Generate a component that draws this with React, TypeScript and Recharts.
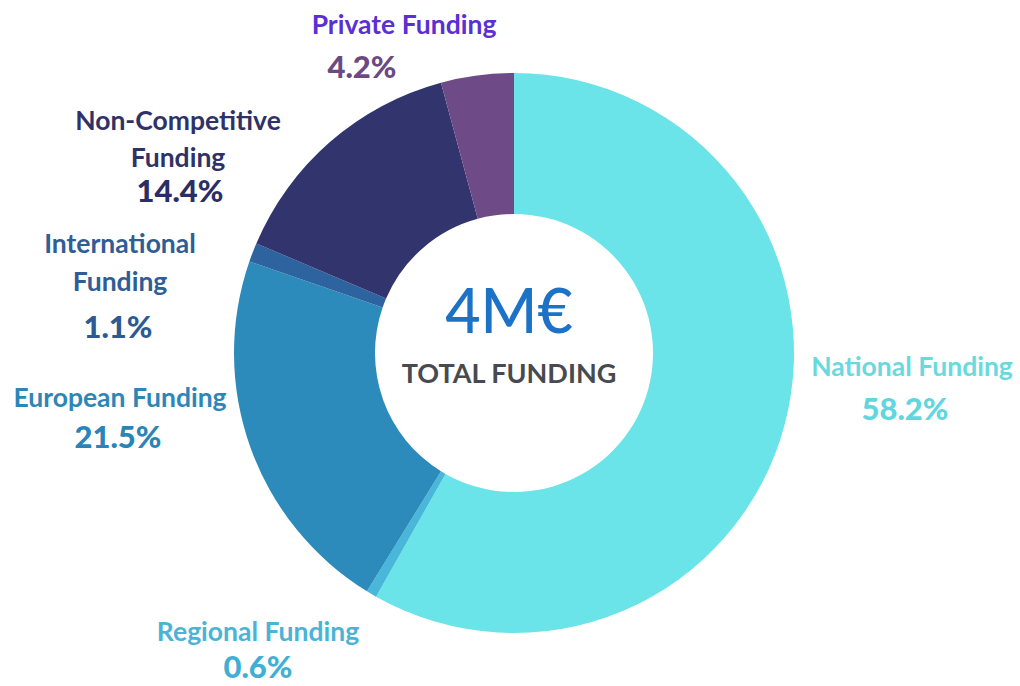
import React from "react";
import { PieChart, Pie, Cell, Label } from "recharts";

const categories = [
  "National Funding",
  "Regional Funding",
  "European Funding",
  "International Funding",
  "Non-Competitive Funding",
  "Private Funding",
];
const shares = [58.2, 0.6, 21.5, 1.1, 14.4, 4.2];
const percentLabels = ["58.2%", "0.6%", "21.5%", "1.1%", "14.4%", "4.2%"];
const nameLines = [
  ["National Funding"],
  ["Regional Funding"],
  ["European Funding"],
  ["International", "Funding"],
  ["Non-Competitive", "Funding"],
  ["Private Funding"],
];
const totalValue = "4M€";
const totalCaption = "TOTAL FUNDING";

const sliceColors = ["#6ae4e8", "#48b7d9", "#2d8bbc", "#2d64a0", "#32346d", "#6e4b86"];
const nameColors = ["#6ad9df", "#4ab4d6", "#2d87b6", "#2f5d95", "#2f3266", "#5a2fd3"];
const pctColors = ["#5fd7de", "#3fb0d4", "#2a84b5", "#2c5b93", "#2b2e62", "#6b4a84"];
// label layout: center x, baseline y of each name line, pct x, pct baseline y
const labelLayout = [
  { x: 912, lines: [376], px: 905, py: 420 },
  { x: 258, lines: [641], px: 258, py: 678 },
  { x: 120, lines: [407], px: 118, py: 448 },
  { x: 120, lines: [253, 291], px: 118, py: 338 },
  { x: 178, lines: [130, 167], px: 180, py: 202 },
  { x: 404, lines: [34], px: 362, py: 78 },
];

const data = categories.map((name, i) => ({ name, value: shares[i] }));

const FONT = "Lato, 'Open Sans', sans-serif";

const renderLabel = (props: any) => {
  const i = props.index;
  const lay = labelLayout[i];
  return (
    <g key={`lbl-${i}`}>
      {nameLines[i].map((ln, j) => (
        <text
          key={j}
          x={lay.x}
          y={lay.lines[j]}
          textAnchor="middle"
          fontFamily={FONT}
          fontWeight={700}
          fontSize={26.5}
          fill={nameColors[i]}
        >
          {ln}
        </text>
      ))}
      <text
        x={lay.px}
        y={lay.py}
        textAnchor="middle"
        fontFamily={FONT}
        fontWeight={900}
        fontSize={31}
        fill={pctColors[i]}
      >
        {percentLabels[i]}
      </text>
    </g>
  );
};

const CenterContent = (props: any) => {
  const vb = props.viewBox || {};
  const cx = vb.cx ?? 509;
  const cy = vb.cy ?? 348;
  return (
    <g>
      <text x={cx} y={cy - 15} textAnchor="middle" fontFamily={FONT} fontWeight={500} fontSize={61} fill="#1b72c6">
        {totalValue}
      </text>
      <text x={cx} y={cy + 35} textAnchor="middle" fontFamily={FONT} fontWeight={700} fontSize={27} fill="#474a4f">
        {totalCaption}
      </text>
    </g>
  );
};

export default function App() {
  return (
    <div style={{ position: "absolute", left: 0, top: 0, width: 1020, height: 686, background: "#ffffff" }}>
      <PieChart width={1020} height={686}>
        <Pie
          data={data}
          dataKey="value"
          nameKey="name"
          cx={509}
          cy={348}
          innerRadius={139}
          outerRadius={280}
          startAngle={90}
          endAngle={-270}
          stroke="none"
          isAnimationActive={false}
          label={renderLabel}
          labelLine={false}
        >
          {data.map((d, i) => (
            <Cell key={d.name} fill={sliceColors[i]} />
          ))}
          <Label position="center" content={<CenterContent />} />
        </Pie>
      </PieChart>
    </div>
  );
}
